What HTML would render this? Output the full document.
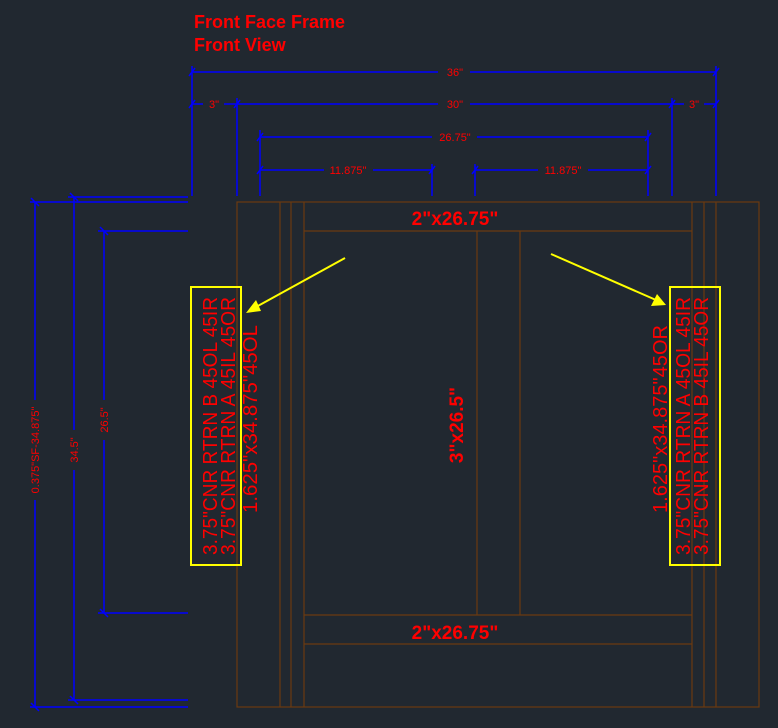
<!DOCTYPE html>
<html><head><meta charset="utf-8"><style>
html,body{margin:0;padding:0;background:#212830;}
svg{display:block}
text{font-family:"Liberation Sans",sans-serif;fill:#ff0000}
</style></head><body>
<svg width="778" height="728" viewBox="0 0 778 728" xmlns="http://www.w3.org/2000/svg">
<rect width="778" height="728" fill="#212830"/>
<text x="194" y="28" font-size="18" font-weight="bold">Front Face Frame</text>
<text x="194" y="51" font-size="18" font-weight="bold">Front View</text>

<g stroke="#0000ff" stroke-width="1.5" fill="none">
<line x1="192" y1="66" x2="192" y2="196"/><line x1="716" y1="66" x2="716" y2="196"/>
<line x1="237" y1="98" x2="237" y2="196"/><line x1="672" y1="98" x2="672" y2="196"/>
<line x1="260" y1="130" x2="260" y2="196"/><line x1="648" y1="130" x2="648" y2="196"/>
<line x1="432" y1="164" x2="432" y2="196"/><line x1="475" y1="164" x2="475" y2="196"/>
<line x1="192" y1="72" x2="438" y2="72"/><line x1="470" y1="72" x2="716" y2="72"/>
<line x1="192" y1="104" x2="203" y2="104"/><line x1="224" y1="104" x2="237" y2="104"/>
<line x1="237" y1="104" x2="438" y2="104"/><line x1="470" y1="104" x2="672" y2="104"/>
<line x1="672" y1="104" x2="684" y2="104"/><line x1="704" y1="104" x2="716" y2="104"/>
<line x1="260" y1="137" x2="432" y2="137"/><line x1="477" y1="137" x2="648" y2="137"/>
<line x1="260" y1="170" x2="324" y2="170"/><line x1="373" y1="170" x2="432" y2="170"/>
<line x1="475" y1="170" x2="538" y2="170"/><line x1="588" y1="170" x2="648" y2="170"/>
<g stroke-width="1.5">
<line x1="189" y1="76" x2="195" y2="68"/><line x1="713" y1="76" x2="719" y2="68"/>
<line x1="189" y1="108" x2="195" y2="100"/><line x1="234" y1="108" x2="240" y2="100"/>
<line x1="669" y1="108" x2="675" y2="100"/><line x1="713" y1="108" x2="719" y2="100"/>
<line x1="257" y1="141" x2="263" y2="133"/><line x1="645" y1="141" x2="651" y2="133"/>
<line x1="257" y1="174" x2="263" y2="166"/><line x1="429" y1="174" x2="435" y2="166"/>
<line x1="472" y1="174" x2="478" y2="166"/><line x1="645" y1="174" x2="651" y2="166"/>
</g>
<line x1="30" y1="202" x2="188" y2="202"/>
<line x1="68" y1="197" x2="188" y2="197"/>
<line x1="98" y1="231" x2="188" y2="231"/>
<line x1="98" y1="613" x2="188" y2="613"/>
<line x1="68" y1="700" x2="188" y2="700"/>
<line x1="30" y1="707" x2="188" y2="707"/>
<line x1="35" y1="202" x2="35" y2="400"/><line x1="35" y1="500" x2="35" y2="707"/>
<line x1="74" y1="197" x2="74" y2="430"/><line x1="74" y1="470" x2="74" y2="700"/>
<line x1="104" y1="231" x2="104" y2="400"/><line x1="104" y1="440" x2="104" y2="613"/>
<line x1="31" y1="198" x2="39" y2="206"/><line x1="31" y1="703" x2="39" y2="711"/>
<line x1="70" y1="193" x2="78" y2="201"/><line x1="70" y1="696" x2="78" y2="704"/>
<line x1="100" y1="227" x2="108" y2="235"/><line x1="100" y1="609" x2="108" y2="617"/>
</g>
<g font-size="11" text-anchor="middle">
<text x="455" y="76">36"</text>
<text x="214" y="108">3"</text>
<text x="455" y="108">30"</text>
<text x="694" y="108">3"</text>
<text x="455" y="141">26.75"</text>
<text x="348" y="174">11.875"</text>
<text x="563" y="174">11.875"</text>
<text transform="translate(39,450) rotate(-90)">0.375"SF-34.875"</text>
<text transform="translate(78,450) rotate(-90)">34.5"</text>
<text transform="translate(108,420) rotate(-90)">26.5"</text>
</g>

<g stroke="#6b3a10" stroke-width="1.2" fill="none">
<rect x="237" y="202" width="522" height="505"/>
<line x1="280" y1="202" x2="280" y2="707"/><line x1="291" y1="202" x2="291" y2="707"/><line x1="304" y1="202" x2="304" y2="707"/>
<line x1="692" y1="202" x2="692" y2="707"/><line x1="704" y1="202" x2="704" y2="707"/><line x1="716" y1="202" x2="716" y2="707"/>
<line x1="304" y1="231" x2="692" y2="231"/>
<line x1="304" y1="615" x2="692" y2="615"/>
<line x1="304" y1="644" x2="692" y2="644"/>
<line x1="477" y1="231" x2="477" y2="615"/><line x1="520" y1="231" x2="520" y2="615"/>
</g>

<g font-size="19" font-weight="bold" text-anchor="middle">
<text x="455" y="225">2"x26.75"</text>
<text x="455" y="639">2"x26.75"</text>
<text transform="translate(463,425) rotate(-90)">3"x26.5"</text>
</g>

<g stroke="#ffff00" stroke-width="2" fill="none">
<rect x="191" y="287" width="50" height="278"/>
<rect x="670" y="287" width="50" height="278"/>
<line x1="345" y1="258" x2="256" y2="307"/>
<line x1="551" y1="254" x2="656" y2="300"/>
</g>
<polygon points="246,313 256,300 261,311" fill="#ffff00"/>
<polygon points="666,305 651,306 657,294" fill="#ffff00"/>

<g font-size="20" text-anchor="middle">
<text transform="translate(217,426) rotate(-90)" textLength="258" lengthAdjust="spacingAndGlyphs">3.75"CNR RTRN B 45OL 45IR</text>
<text transform="translate(235,426) rotate(-90)" textLength="258" lengthAdjust="spacingAndGlyphs">3.75"CNR RTRN A 45IL 45OR</text>
<text transform="translate(257,419) rotate(-90)" textLength="188" lengthAdjust="spacingAndGlyphs">1.625"x34.875"45OL</text>
<text transform="translate(667,419) rotate(-90)" textLength="188" lengthAdjust="spacingAndGlyphs">1.625"x34.875"45OR</text>
<text transform="translate(690,426) rotate(-90)" textLength="258" lengthAdjust="spacingAndGlyphs">3.75"CNR RTRN A 45OL 45IR</text>
<text transform="translate(708,426) rotate(-90)" textLength="258" lengthAdjust="spacingAndGlyphs">3.75"CNR RTRN B 45IL 45OR</text>
</g>
</svg>
</body></html>
